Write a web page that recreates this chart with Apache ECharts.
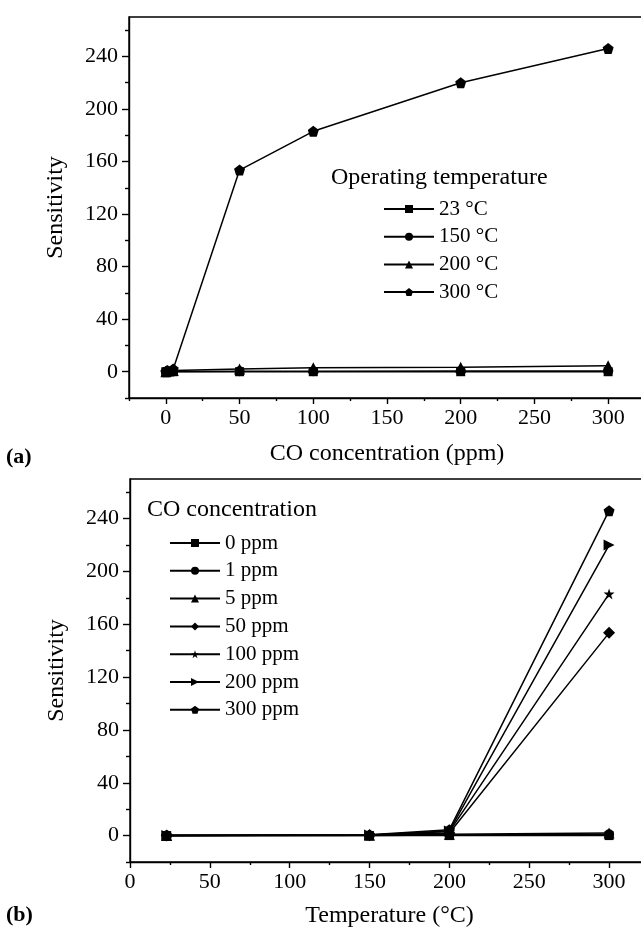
<!DOCTYPE html>
<html><head><meta charset="utf-8">
<script src="https://cdn.jsdelivr.net/npm/echarts@6/dist/echarts.min.js"></script>
<style>html,body{margin:0;padding:0;background:#fff}#c{width:641px;height:935px}</style>
</head><body><div id="c"></div>
<script>
// ---- data ----
const concentrations = [0, 1, 5, 50, 100, 200, 300];
const temperatures = [23, 150, 200, 300];
const sens23C = [0, 0, 0, 0, 0, 0, 0];
const sens150C = [0, 0.1, 0.2, 0.3, 0.4, 0.5, 0.6];
const sens200C = [0, 0.5, 1, 2, 3, 3.5, 4.5];
const sens300C = [0, 1, 2, 153.5, 183, 220, 246];
const tempLabels = ['23 °C', '150 °C', '200 °C', '300 °C'];
const concLabels = ['0 ppm', '1 ppm', '5 ppm', '50 ppm', '100 ppm', '200 ppm', '300 ppm'];
const xTicks = [0, 50, 100, 150, 200, 250, 300];
const xMinorTicks = [-25, 25, 75, 125, 175, 225, 275, 325];
const yTicks = [0, 40, 80, 120, 160, 200, 240];
const yMinorTicks = [-20, 20, 60, 100, 140, 180, 220, 260];

// ---- style ----
const FONT = 'Liberation Serif';
const PENT = 'path://M0,-10L9.51,-3.09L5.88,8.09L-5.88,8.09L-9.51,-3.09Z';
const STAR = 'path://M0,-10L2.245,-3.09L9.511,-3.09L3.633,1.18L5.878,8.09L0,3.82L-5.878,8.09L-3.633,1.18L-9.511,-3.09L-2.245,-3.09Z';
const RTRI = 'path://M0,0L10,5L0,10Z';
const tempSymbols = [['rect', 9], ['circle', 10], ['triangle', 11], [PENT, 11]];
const concSymbols = [['rect', 9], ['circle', 10], ['triangle', 11], ['diamond', 12], [STAR, 11], [RTRI, 11], [PENT, 11]];

const sensByTemp = [sens23C, sens150C, sens200C, sens300C];

const series = [];
tempLabels.forEach((name, i) => {
  series.push({
    name, type: 'line', xAxisIndex: 0, yAxisIndex: 0,
    data: concentrations.map((c, j) => [c, sensByTemp[i][j]]),
    symbol: tempSymbols[i][0], symbolSize: tempSymbols[i][1],
    itemStyle: {color: '#000'}, lineStyle: {color: '#000', width: 1.5},
    animation: false
  });
});
concLabels.forEach((name, j) => {
  series.push({
    name, type: 'line', xAxisIndex: 2, yAxisIndex: 2,
    data: temperatures.map((t, i) => [t, sensByTemp[i][j]]),
    symbol: concSymbols[j][0], symbolSize: concSymbols[j][1],
    itemStyle: {color: '#000'}, lineStyle: {color: '#000', width: 1.5},
    animation: false
  });
});

const lineSt = {color: '#000', width: 1.4};
const labelSt = {color: '#000', fontFamily: FONT, fontSize: 22};
const nameSt = {color: '#000', fontFamily: FONT, fontSize: 24};

function xMain(grid, name, gap, min) {
  return {type: 'value', gridIndex: grid, min: min, max: 325, position: 'bottom',
    axisLine: {onZero: false, lineStyle: lineSt},
    axisTick: {customValues: xTicks, length: 6, lineStyle: lineSt},
    axisLabel: Object.assign({customValues: xTicks, margin: 9}, labelSt),
    splitLine: {show: false},
    name, nameLocation: 'middle', nameGap: gap, nameTextStyle: nameSt};
}
function xMinor(grid, min) {
  return {type: 'value', gridIndex: grid, min: min, max: 325, position: 'bottom',
    axisLine: {show: false, onZero: false},
    axisTick: {customValues: xMinorTicks, length: 3, lineStyle: lineSt},
    axisLabel: {show: false}, splitLine: {show: false}};
}
function yMain(grid) {
  return {type: 'value', gridIndex: grid, min: -20, max: 270, position: 'left',
    axisLine: {show: true, onZero: false, lineStyle: lineSt},
    axisTick: {show: true, customValues: yTicks, length: 7, lineStyle: lineSt},
    axisLabel: Object.assign({customValues: yTicks, margin: 11}, labelSt),
    splitLine: {show: false},
    name: 'Sensitivity', nameLocation: 'middle', nameGap: 61, nameRotate: 90, nameTextStyle: nameSt};
}
function yMinor(grid) {
  return {type: 'value', gridIndex: grid, min: -20, max: 270, position: 'left',
    axisLine: {show: false, onZero: false},
    axisTick: {show: true, customValues: yMinorTicks, length: 4, lineStyle: lineSt},
    axisLabel: {show: false}, splitLine: {show: false}};
}

const legendText = {color: '#000', fontFamily: FONT, fontSize: 21, lineHeight: 22};
const titleText = {color: '#000', fontFamily: FONT, fontSize: 24, fontWeight: 'normal', lineHeight: 24};
const tagText = {color: '#000', fontFamily: FONT, fontSize: 22, lineHeight: 24,
  rich: {n: {fontFamily: FONT, fontSize: 22, color: '#000'}, b: {fontFamily: FONT, fontSize: 22, fontWeight: 'bold', color: '#000'}}};

const option = {
  animation: false,
  backgroundColor: '#fff',
  title: [
    {text: 'Operating temperature', left: 331, top: 166, padding: 0, textStyle: titleText},
    {text: 'CO concentration', left: 147, top: 498, padding: 0, textStyle: titleText},
    {text: '{n|(}{b|a}{n|)}', left: 6, top: 445, padding: 0, textStyle: tagText},
    {text: '{n|(}{b|b}{n|)}', left: 6, top: 903, padding: 0, textStyle: tagText}
  ],
  legend: [
    {data: tempLabels, orient: 'vertical', left: 383, top: 198, padding: 0, itemWidth: 50, itemHeight: 10, itemGap: 5.7,
      textStyle: legendText, selectedMode: false},
    {data: concLabels, orient: 'vertical', left: 169, top: 532, padding: 0, itemWidth: 50, itemHeight: 10, itemGap: 5.8,
      textStyle: legendText, selectedMode: false}
  ],
  grid: [
    {left: 129, top: 17, width: 516, height: 381, show: true, borderColor: '#000', borderWidth: 1.4, backgroundColor: 'transparent', containLabel: false, outerBoundsMode: 'none'},
    {left: 130, top: 479, width: 519, height: 383, show: true, borderColor: '#000', borderWidth: 1.4, backgroundColor: 'transparent', containLabel: false, outerBoundsMode: 'none'}
  ],
  xAxis: [xMain(0, 'CO concentration (ppm)', 44, -25), xMinor(0, -25), xMain(1, 'Temperature (°C)', 42, 0), xMinor(1, 0)],
  yAxis: [yMain(0), yMinor(0), yMain(1), yMinor(1)],
  series
};
const chart = echarts.init(document.getElementById('c'), null, {renderer: 'canvas'});
chart.setOption(option);
</script>
</body></html>
